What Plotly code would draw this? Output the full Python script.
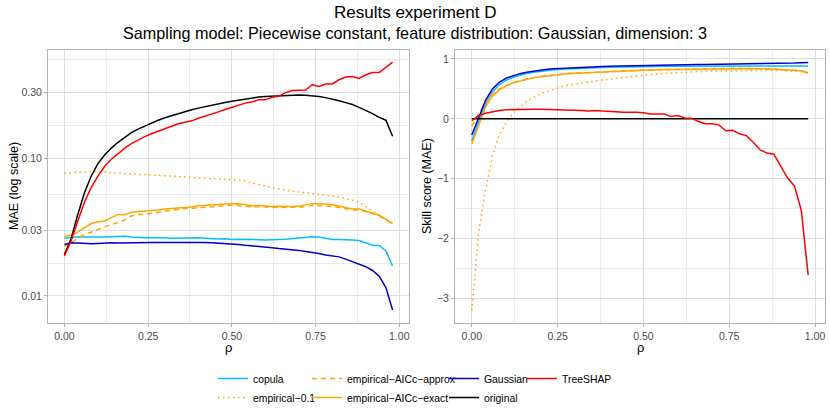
import plotly.graph_objects as go
from plotly.subplots import make_subplots

# dependence level on the x axis
rho = [0.00, 0.02, 0.04, 0.06, 0.08, 0.10, 0.12, 0.14, 0.16, 0.18,
       0.20, 0.22, 0.24, 0.26, 0.28, 0.30, 0.32, 0.34, 0.36, 0.38,
       0.40, 0.42, 0.44, 0.46, 0.48, 0.50, 0.52, 0.54, 0.56, 0.58,
       0.60, 0.62, 0.64, 0.66, 0.68, 0.70, 0.72, 0.74, 0.76, 0.78,
       0.80, 0.82, 0.84, 0.86, 0.88, 0.90, 0.92, 0.94, 0.96, 0.98]

# MAE (left panel)
mae_copula = [0.0262, 0.0266, 0.0268, 0.0268, 0.0267, 0.0268, 0.0268, 0.0269, 0.0270, 0.0271,
              0.0268, 0.0265, 0.0264, 0.0264, 0.0265, 0.0264, 0.0262, 0.0263, 0.0263, 0.0262,
              0.0264, 0.0262, 0.0260, 0.0259, 0.0260, 0.0257, 0.0258, 0.0258, 0.0258, 0.0256,
              0.0254, 0.0254, 0.0257, 0.0258, 0.0261, 0.0262, 0.0266, 0.0269, 0.0268, 0.0262,
              0.0257, 0.0257, 0.0254, 0.0254, 0.0252, 0.0243, 0.0233, 0.0232, 0.0212, 0.0165]
mae_emp01 = [0.0780, 0.0780, 0.0790, 0.0790, 0.0800, 0.0800, 0.0790, 0.0780, 0.0780, 0.0770,
             0.0770, 0.0760, 0.0760, 0.0755, 0.0750, 0.0745, 0.0740, 0.0735, 0.0730, 0.0725,
             0.0720, 0.0712, 0.0705, 0.0700, 0.0697, 0.0693, 0.0690, 0.0685, 0.0660, 0.0640,
             0.0625, 0.0610, 0.0597, 0.0585, 0.0574, 0.0567, 0.0560, 0.0553, 0.0548, 0.0540,
             0.0532, 0.0522, 0.0510, 0.0495, 0.0478, 0.0445, 0.0410, 0.0385, 0.0360, 0.0335]
mae_approx = [0.0228, 0.0245, 0.0260, 0.0280, 0.0290, 0.0305, 0.0318, 0.0328, 0.0340, 0.0355,
              0.0380, 0.0390, 0.0390, 0.0395, 0.0405, 0.0413, 0.0420, 0.0425, 0.0430, 0.0432,
              0.0435, 0.0440, 0.0443, 0.0448, 0.0452, 0.0455, 0.0452, 0.0448, 0.0442, 0.0445,
              0.0440, 0.0438, 0.0438, 0.0437, 0.0438, 0.0440, 0.0445, 0.0452, 0.0452, 0.0450,
              0.0445, 0.0438, 0.0430, 0.0420, 0.0420, 0.0410, 0.0395, 0.0380, 0.0358, 0.0333]
mae_exact = [0.0270, 0.0275, 0.0290, 0.0310, 0.0335, 0.0345, 0.0350, 0.0370, 0.0390, 0.0388,
             0.0405, 0.0410, 0.0412, 0.0415, 0.0420, 0.0427, 0.0430, 0.0433, 0.0437, 0.0442,
             0.0450, 0.0452, 0.0455, 0.0460, 0.0465, 0.0467, 0.0466, 0.0460, 0.0450, 0.0452,
             0.0448, 0.0446, 0.0447, 0.0445, 0.0446, 0.0448, 0.0455, 0.0467, 0.0466, 0.0465,
             0.0458, 0.0446, 0.0435, 0.0427, 0.0427, 0.0412, 0.0398, 0.0385, 0.0360, 0.0335]
mae_gaussian = [0.0236, 0.0243, 0.0242, 0.0240, 0.0239, 0.0240, 0.0242, 0.0243, 0.0242, 0.0243,
                0.0243, 0.0244, 0.0244, 0.0244, 0.0244, 0.0245, 0.0244, 0.0244, 0.0244, 0.0245,
                0.0245, 0.0244, 0.0243, 0.0242, 0.0239, 0.0237, 0.0236, 0.0233, 0.0231, 0.0230,
                0.0227, 0.0224, 0.0221, 0.0219, 0.0217, 0.0214, 0.0210, 0.0207, 0.0203, 0.0198,
                0.0195, 0.0192, 0.0185, 0.0178, 0.0171, 0.0163, 0.0153, 0.0139, 0.0115, 0.0079]
mae_original = [0.0200, 0.0260, 0.0390, 0.0560, 0.0740, 0.0910, 0.1050, 0.1180, 0.1300, 0.1420,
                0.1530, 0.1620, 0.1710, 0.1800, 0.1880, 0.1960, 0.2030, 0.2100, 0.2170, 0.2240,
                0.2300, 0.2360, 0.2420, 0.2480, 0.2530, 0.2580, 0.2630, 0.2680, 0.2730, 0.2770,
                0.2790, 0.2810, 0.2830, 0.2850, 0.2860, 0.2860, 0.2850, 0.2830, 0.2790, 0.2740,
                0.2680, 0.2600, 0.2520, 0.2440, 0.2330, 0.2220, 0.2100, 0.1970, 0.1880, 0.1440]
mae_treeshap = [0.0195, 0.0250, 0.0350, 0.0480, 0.0610, 0.0740, 0.0870, 0.0980, 0.1070, 0.1180,
                0.1270, 0.1350, 0.1430, 0.1500, 0.1570, 0.1640, 0.1700, 0.1770, 0.1820, 0.1860,
                0.1940, 0.2010, 0.2060, 0.2160, 0.2250, 0.2340, 0.2420, 0.2500, 0.2550, 0.2640,
                0.2640, 0.2760, 0.2800, 0.2980, 0.3090, 0.3090, 0.3110, 0.3400, 0.3300, 0.3440,
                0.3440, 0.3690, 0.3860, 0.3900, 0.3770, 0.4010, 0.4170, 0.4170, 0.4560, 0.4960]

# skill score (right panel)
skill_copula = [-0.37, -0.04, 0.25, 0.45, 0.57, 0.645, 0.695, 0.73, 0.76, 0.78,
                0.797, 0.81, 0.82, 0.828, 0.835, 0.84, 0.845, 0.85, 0.854, 0.858,
                0.861, 0.864, 0.866, 0.868, 0.87, 0.872, 0.874, 0.875, 0.876, 0.877,
                0.878, 0.879, 0.88, 0.881, 0.882, 0.882, 0.883, 0.883, 0.884, 0.884,
                0.885, 0.885, 0.885, 0.885, 0.885, 0.885, 0.885, 0.884, 0.883, 0.882]
skill_emp01 = [-3.20, -1.90, -1.18, -0.62, -0.27, -0.06, 0.09, 0.20, 0.29, 0.36,
               0.42, 0.46, 0.50, 0.53, 0.56, 0.58, 0.60, 0.62, 0.64, 0.65,
               0.66, 0.675, 0.685, 0.70, 0.72, 0.735, 0.745, 0.755, 0.76, 0.768,
               0.775, 0.78, 0.786, 0.79, 0.794, 0.797, 0.80, 0.803, 0.805, 0.807,
               0.808, 0.809, 0.81, 0.81, 0.81, 0.808, 0.804, 0.797, 0.787, 0.77]
skill_approx = [-0.12, 0.08, 0.28, 0.42, 0.50, 0.56, 0.605, 0.64, 0.665, 0.69,
                0.708, 0.722, 0.736, 0.747, 0.757, 0.764, 0.77, 0.776, 0.781, 0.786,
                0.792, 0.797, 0.802, 0.807, 0.812, 0.816, 0.819, 0.822, 0.825, 0.827,
                0.829, 0.831, 0.833, 0.835, 0.837, 0.839, 0.841, 0.843, 0.844, 0.844,
                0.843, 0.841, 0.839, 0.836, 0.833, 0.828, 0.821, 0.813, 0.801, 0.767]
skill_exact = [-0.42, -0.10, 0.20, 0.38, 0.48, 0.55, 0.60, 0.63, 0.66, 0.685,
               0.705, 0.72, 0.735, 0.745, 0.755, 0.762, 0.768, 0.774, 0.779, 0.784,
               0.79, 0.795, 0.80, 0.805, 0.81, 0.815, 0.818, 0.821, 0.823, 0.826,
               0.828, 0.83, 0.832, 0.834, 0.836, 0.838, 0.84, 0.842, 0.843, 0.843,
               0.842, 0.84, 0.838, 0.835, 0.832, 0.827, 0.82, 0.812, 0.80, 0.765]
skill_gaussian = [-0.27, 0.03, 0.31, 0.50, 0.61, 0.68, 0.72, 0.755, 0.78, 0.80,
                  0.815, 0.828, 0.838, 0.845, 0.852, 0.858, 0.863, 0.868, 0.872, 0.876,
                  0.880, 0.883, 0.886, 0.889, 0.892, 0.895, 0.897, 0.899, 0.901, 0.903,
                  0.905, 0.906, 0.907, 0.908, 0.909, 0.910, 0.911, 0.912, 0.913, 0.914,
                  0.915, 0.917, 0.919, 0.921, 0.923, 0.926, 0.929, 0.932, 0.937, 0.943]
skill_original = [0.0, 0.0, 0.0, 0.0, 0.0, 0.0, 0.0, 0.0, 0.0, 0.0,
                  0.0, 0.0, 0.0, 0.0, 0.0, 0.0, 0.0, 0.0, 0.0, 0.0,
                  0.0, 0.0, 0.0, 0.0, 0.0, 0.0, 0.0, 0.0, 0.0, 0.0,
                  0.0, 0.0, 0.0, 0.0, 0.0, 0.0, 0.0, 0.0, 0.0, 0.0,
                  0.0, 0.0, 0.0, 0.0, 0.0, 0.0, 0.0, 0.0, 0.0, 0.0]
skill_treeshap = [-0.03, 0.055, 0.094, 0.12, 0.14, 0.15, 0.155, 0.158, 0.16, 0.16,
                  0.16, 0.158, 0.155, 0.148, 0.145, 0.14, 0.138, 0.13, 0.14, 0.13,
                  0.13, 0.12, 0.11, 0.115, 0.11, 0.10, 0.083, 0.083, 0.083, 0.038,
                  0.055, 0.016, 0.011, -0.045, -0.083, -0.083, -0.10, -0.20, -0.19, -0.25,
                  -0.28, -0.39, -0.52, -0.57, -0.59, -0.79, -0.99, -1.12, -1.53, -2.61]

# name, left values, right values, colour, dash, legend column
methods = [
    ('copula', mae_copula, skill_copula, '#00BFFF', 'solid', 'legend'),
    ('empirical\u22120.1', mae_emp01, skill_emp01, '#FFA500', '1.5px,3.5px', 'legend'),
    ('empirical\u2212AICc\u2212approx', mae_approx, skill_approx, '#FFA500', '5px,4px', 'legend2'),
    ('empirical\u2212AICc\u2212exact', mae_exact, skill_exact, '#FFA500', 'solid', 'legend2'),
    ('Gaussian', mae_gaussian, skill_gaussian, '#0000CD', 'solid', 'legend3'),
    ('original', mae_original, skill_original, '#000000', 'solid', 'legend3'),
    ('TreeSHAP', mae_treeshap, skill_treeshap, '#FF0000', 'solid', 'legend4'),
]

FONT = 'Liberation Sans'
W, H = 830, 415

fig = make_subplots(rows=1, cols=2)

for name, left, right, col, dash, leg in methods:
    fig.add_trace(go.Scatter(x=rho, y=left, mode='lines', name=name, legend=leg,
                             line=dict(color=col, width=1.5, dash=dash)), row=1, col=1)
    fig.add_trace(go.Scatter(x=rho, y=right, mode='lines', name=name, legend=leg, showlegend=False,
                             line=dict(color=col, width=1.5, dash=dash)), row=1, col=2)

axis_style = dict(
    showline=True, mirror=True, linecolor='#B3B3B3', linewidth=1,
    ticks='outside', ticklen=3, tickcolor='#B3B3B3', tickwidth=1,
    tickfont=dict(family=FONT, size=10.5, color='#4D4D4D'),
    showgrid=True, gridcolor='#DEDEDE', gridwidth=1,
    zeroline=False, automargin=False,
)

xticks = [0, 0.25, 0.5, 0.75, 1.0]
xticktext = ['0.00', '0.25', '0.50', '0.75', '1.00']
x_minor = [0.125, 0.375, 0.625, 0.875]

fig.update_xaxes(axis_style, range=[-0.049, 1.029], tickvals=xticks, ticktext=xticktext,
                 minor=dict(tickvals=x_minor, showgrid=True, gridcolor='#EBEBEB', gridwidth=0.6, ticklen=0))
fig.update_xaxes(domain=[48 / W, 409 / W], row=1, col=1)
fig.update_xaxes(domain=[455 / W, 825 / W], row=1, col=2)

fig.update_yaxes(axis_style, domain=[(H - 323) / H, (H - 50) / H])
fig.update_yaxes(type='log', range=[-2.196, -0.217],
                 tickvals=[0.01, 0.03, 0.1, 0.3], ticktext=['0.01', '0.03', '0.10', '0.30'],
                 minor=dict(tickvals=[0.01732, 0.0548, 0.1732, 0.5196], showgrid=True,
                            gridcolor='#EBEBEB', gridwidth=0.6, ticklen=0),
                 row=1, col=1)
fig.update_yaxes(range=[-3.41, 1.15], tickvals=[-3, -2, -1, 0, 1],
                 minor=dict(tickvals=[-2.5, -1.5, -0.5, 0.5], showgrid=True,
                            gridcolor='#EBEBEB', gridwidth=0.6, ticklen=0),
                 row=1, col=2)

# titles and axis titles
annots = [
    dict(text='Results experiment D', x=0.5, y=1 - 12 / H, size=17),
    dict(text='Sampling model: Piecewise constant, feature distribution: Gaussian, dimension: 3',
         x=0.5, y=1 - 33 / H, size=16.2),
    dict(text='\u03c1', x=228.5 / W, y=1 - 347 / H, size=13),
    dict(text='\u03c1', x=640 / W, y=1 - 347 / H, size=13),
    dict(text='MAE (log scale)', x=14 / W, y=1 - 186 / H, size=12.5, angle=-90),
    dict(text='Skill score (MAE)', x=427 / W, y=1 - 186 / H, size=12.5, angle=-90),
]
for a in annots:
    fig.add_annotation(text=a['text'], x=a['x'], y=a['y'], xref='paper', yref='paper',
                       xanchor='center', yanchor='middle', showarrow=False,
                       textangle=a.get('angle', 0),
                       font=dict(family=FONT, size=a['size'], color='#000000'))

# one legend per column, like ggplot's bottom legend
leg_style = dict(orientation='v', xanchor='left', yanchor='top', y=1 - 364 / H,
                 bgcolor='rgba(0,0,0,0)', tracegroupgap=0, itemwidth=30,
                 font=dict(family=FONT, size=10.4, color='#000000'))
fig.update_layout(
    legend=dict(leg_style, x=213 / W),
    legend2=dict(leg_style, x=307 / W),
    legend3=dict(leg_style, x=444 / W),
    legend4=dict(leg_style, x=522 / W),
)

fig.update_layout(
    width=W, height=H,
    margin=dict(l=0, r=0, t=0, b=0),
    paper_bgcolor='white', plot_bgcolor='white',
    font=dict(family=FONT),
)

# drop the browser's default page margin so the figure sits at the corner
fig.write_html("out.html", config={'displayModeBar': False},
               post_script="document.body.style.margin='0';")
